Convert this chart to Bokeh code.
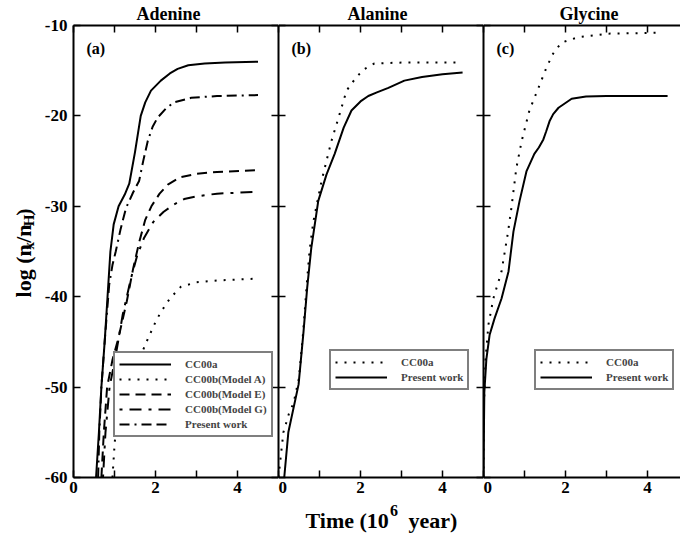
import math
from bokeh.plotting import figure
from bokeh.layouts import row, column
from bokeh.models import (LinearAxis, FixedTicker, Label, Legend, LegendItem, Range1d,
                          CustomJSTickFormatter, Title)
from bokeh.embed import file_html
from bokeh.resources import INLINE

# ---------------- data ----------------
panel_titles = ["Adenine", "Alanine", "Glycine"]
panel_tags = ["(a)", "(b)", "(c)"]
y_ticks = [-60, -50, -40, -30, -20, -10]
x_major = [0, 2, 4]
x_minor = [1, 3, 5]
x_all = [0, 1, 2, 3, 4, 5]

# Panel (a) Adenine
a_cc00a_t = [0.55, 0.62, 0.68, 0.76, 0.83, 0.90, 0.98, 1.10, 1.25, 1.36, 1.50, 1.64, 1.75, 1.89, 2.13, 2.35, 2.54, 2.80, 3.20, 3.70, 4.50]
a_cc00a_v = [-60, -55, -50, -45, -40, -35, -32, -30, -28.7, -27.5, -24, -20, -18.5, -17.2, -16.1, -15.3, -14.8, -14.4, -14.2, -14.1, -14.0]
a_modelA_t = [0.95, 1.00, 1.06, 1.15, 1.30, 1.50, 1.64, 1.81, 2.00, 2.13, 2.35, 2.62, 3.00, 3.50, 4.50]
a_modelA_v = [-60, -56.5, -53, -50.5, -48.5, -47.2, -46.5, -44.7, -42.8, -41.7, -40.2, -38.9, -38.4, -38.2, -38.0]
a_modelE_t = [0.68, 0.74, 0.82, 0.95, 1.10, 1.30, 1.45, 1.60, 1.75, 1.90, 2.10, 2.30, 2.60, 3.00, 3.50, 4.50]
a_modelE_v = [-60, -55, -50, -47, -44.5, -40.5, -37, -34, -31.5, -30, -28.6, -27.6, -26.8, -26.4, -26.2, -26.0]
a_modelG_t = [0.72, 0.78, 0.88, 1.03, 1.20, 1.40, 1.55, 1.72, 1.95, 2.20, 2.45, 2.70, 3.00, 3.50, 4.50]
a_modelG_v = [-60, -55, -50, -46.5, -42, -38, -35.5, -33.5, -31.7, -30.6, -29.8, -29.2, -28.9, -28.6, -28.4]
a_present_t = [0.60, 0.63, 0.68, 0.76, 0.87, 0.95, 1.03, 1.15, 1.28, 1.45, 1.60, 1.70, 1.81, 1.93, 2.05, 2.25, 2.45, 2.87, 3.50, 4.50]
a_present_v = [-60, -55, -50, -45, -38.7, -36.5, -35, -32.5, -30.2, -28.5, -27.2, -25, -22.8, -21.2, -20.2, -19.2, -18.5, -18.0, -17.8, -17.7]

# Panel (b) Alanine
b_cc00a_t = [0.00, 0.03, 0.12, 0.25, 0.37, 0.50, 0.60, 0.70, 0.76, 0.85, 1.05, 1.29, 1.49, 1.66, 1.90, 2.10, 2.34, 3.00, 4.40]
b_cc00a_v = [-60, -58.7, -55, -53, -51.7, -49, -44, -38, -34.8, -31.7, -27.2, -22.8, -19.8, -17.2, -15.7, -14.8, -14.2, -14.1, -14.1]
b_present_t = [0.14, 0.24, 0.49, 0.61, 0.70, 0.80, 0.97, 1.17, 1.37, 1.59, 1.78, 2.00, 2.19, 2.40, 2.68, 3.07, 3.50, 4.00, 4.49]
b_present_v = [-60, -55, -49.7, -43.9, -39, -34.6, -29.4, -26.5, -24.2, -21.3, -19.4, -18.4, -17.8, -17.4, -16.9, -16.1, -15.7, -15.4, -15.2]

# Panel (c) Glycine
c_cc00a_t = [0.00, 0.01, 0.05, 0.12, 0.24, 0.44, 0.60, 0.68, 0.80, 0.93, 1.12, 1.34, 1.54, 1.70, 1.90, 2.30, 3.05, 4.34]
c_cc00a_v = [-60, -52, -46.9, -43.1, -40.2, -37.2, -32.8, -30.2, -25.8, -22.8, -19.4, -16.9, -14.6, -13.1, -11.9, -11.3, -10.9, -10.8]
c_present_t = [0.00, 0.01, 0.02, 0.07, 0.15, 0.27, 0.44, 0.61, 0.73, 0.88, 1.05, 1.24, 1.35, 1.46, 1.53, 1.61, 1.70, 1.83, 2.15, 2.50, 3.00, 4.49]
c_present_v = [-60, -55, -50.6, -46.9, -44.2, -42.4, -40.2, -37.2, -32.8, -29.4, -26.1, -24.2, -23.5, -22.6, -21.7, -20.6, -19.8, -19.1, -18.1, -17.85, -17.8, -17.8]

FONT = "Liberation Serif"
DOT = "2 7"
DASH = "10 6"
DOTDASH = "3 7 12 7"
DASHDOT = "10 5 2 5 10 5"

PX_PER_UNIT = 41
FRAME_H = 452
TOTAL_W = 680
MAIN_TOP = 25
MAIN_BOTTOM = 25
MAIN_H = MAIN_TOP + FRAME_H + MAIN_BOTTOM
XLAB_H = 537 - MAIN_H
YLAB_W = 38
A_LEFT = 35


def blank_fig(w, h):
    p = figure(width=w, height=h, x_range=Range1d(0, w), y_range=Range1d(0, h),
               title_location=None, x_axis_location=None, y_axis_location=None,
               toolbar_location=None, output_backend="svg",
               min_border=0, min_border_left=0, min_border_right=0,
               min_border_top=0, min_border_bottom=0, outline_line_color=None,
               background_fill_color="white", border_fill_color="white")
    p.grid.visible = False
    return p


def make_fig(xmax, frame_w, left_border, title, title_offset):
    p = figure(frame_width=frame_w, frame_height=FRAME_H,
               x_range=Range1d(0, xmax), y_range=Range1d(-60, -10),
               x_axis_location=None, y_axis_location=None,
               toolbar_location=None, output_backend="svg",
               min_border_left=left_border, min_border_right=0,
               min_border_top=MAIN_TOP, min_border_bottom=MAIN_BOTTOM,
               outline_line_color=None,
               background_fill_color="white", border_fill_color="white")
    p.title = Title(text=title, align="left", offset=title_offset,
                    text_font=FONT, text_font_style="bold", text_font_size="18px",
                    text_color="black", standoff=3, text_line_height=1.0)
    p.grid.visible = False
    return p


def make_axis(ticks, minor, standoff=0):
    return LinearAxis(
        ticker=FixedTicker(ticks=ticks, minor_ticks=minor),
        formatter=CustomJSTickFormatter(code="return String(tick)"),
        axis_line_width=2, axis_line_color="black",
        major_tick_in=7, major_tick_out=0, minor_tick_in=7, minor_tick_out=0,
        major_tick_line_width=1.5, minor_tick_line_width=1.5,
        major_tick_line_color="black", minor_tick_line_color="black",
        major_label_text_font=FONT, major_label_text_font_style="bold",
        major_label_text_font_size="17px", major_label_text_color="black",
        major_label_standoff=standoff)


def add_label(p, x, y, text, size, xo=0, yo=0, angle=0.0, align="left", baseline="alphabetic"):
    p.add_layout(Label(x=x, y=y, x_offset=xo, y_offset=yo, text=text, angle=angle,
                       text_align=align, text_baseline=baseline,
                       text_font=FONT, text_font_style="bold",
                       text_font_size=size, text_color="black"))


def make_legend(items, loc):
    return Legend(items=items, location=loc,
                  border_line_color="black", border_line_width=2,
                  background_fill_color="white", background_fill_alpha=1.0,
                  label_text_font=FONT, label_text_font_style="bold",
                  label_text_font_size="11px",
                  glyph_width=52, glyph_height=14, label_height=14,
                  label_standoff=14, padding=4, spacing=1, margin=0)


W_A, W_B = 205, 205
W_C = TOTAL_W - YLAB_W - (A_LEFT + W_A) - W_B
xmax_c = W_C / PX_PER_UNIT

pa = make_fig(5, W_A, A_LEFT, panel_titles[0], 63)
pb = make_fig(5, W_B, 0, panel_titles[1], 69)
pc = make_fig(xmax_c, W_C, 0, panel_titles[2], 76)

for p, left_lab, has_right in [(pa, True, True), (pb, False, True), (pc, False, False)]:
    if left_lab:
        p.add_layout(make_axis(y_ticks, [], 6), "left")
    else:
        p.add_layout(make_axis([], y_ticks), "left")
    if has_right:
        p.add_layout(make_axis([], y_ticks), "right")
    p.add_layout(make_axis(x_major, x_minor, 4), "below")
    p.add_layout(make_axis([], x_all), "above")

# ---- panel a curves
r1 = pa.line(a_cc00a_t, a_cc00a_v, line_color="black", line_width=2)
r2 = pa.line(a_modelA_t, a_modelA_v, line_color="black", line_width=2, line_dash=DOT)
r3 = pa.line(a_modelE_t, a_modelE_v, line_color="black", line_width=2, line_dash=DASH)
r4 = pa.line(a_modelG_t, a_modelG_v, line_color="black", line_width=2, line_dash=DOTDASH)
r5 = pa.line(a_present_t, a_present_v, line_color="black", line_width=2, line_dash=DASHDOT)
pa.add_layout(make_legend([
    LegendItem(label="CC00a", renderers=[r1]),
    LegendItem(label="CC00b(Model A)", renderers=[r2]),
    LegendItem(label="CC00b(Model E)", renderers=[r3]),
    LegendItem(label="CC00b(Model G)", renderers=[r4]),
    LegendItem(label="Present work", renderers=[r5]),
], (40, 40)))

# ---- panel b curves
rb1 = pb.line(b_cc00a_t, b_cc00a_v, line_color="black", line_width=2, line_dash=DOT)
rb2 = pb.line(b_present_t, b_present_v, line_color="black", line_width=2)
pb.add_layout(make_legend([
    LegendItem(label="CC00a", renderers=[rb1]),
    LegendItem(label="Present work", renderers=[rb2]),
], (51, 87)))

# ---- panel c curves
rc1 = pc.line(c_cc00a_t, c_cc00a_v, line_color="black", line_width=2, line_dash=DOT)
rc2 = pc.line(c_present_t, c_present_v, line_color="black", line_width=2)
pc.add_layout(make_legend([
    LegendItem(label="CC00a", renderers=[rc1]),
    LegendItem(label="Present work", renderers=[rc2]),
], (51, 87)))

# ---- panel tags
for p, tag in zip([pa, pb, pc], panel_tags):
    add_label(p, 0, -10, tag, "16px", xo=13, yo=-14, baseline="top")

# ---- y label strip: log (n_x/n_H)
py = blank_fig(YLAB_W, MAIN_H)
ang = math.pi / 2
base, sub = 23, 28
add_label(py, base, 200, "log (n", "22px", angle=ang)
add_label(py, sub, 253.2, "x", "15px", angle=ang)
add_label(py, base, 260.7, "/n", "22px", angle=ang)
add_label(py, sub, 279.0, "H", "15px", angle=ang)
add_label(py, base, 290.7, ")", "22px", angle=ang)

# ---- x label strip: Time (10^6 year)
px = blank_fig(TOTAL_W, XLAB_H)
add_label(px, 305, 17, "Time (10", "22px")
add_label(px, 389.5, 27, "6", "16px")
add_label(px, 408, 17, "year)", "22px")

layout = column(row(py, pa, pb, pc), px)
open("out.html", "w").write(file_html(layout, INLINE))
